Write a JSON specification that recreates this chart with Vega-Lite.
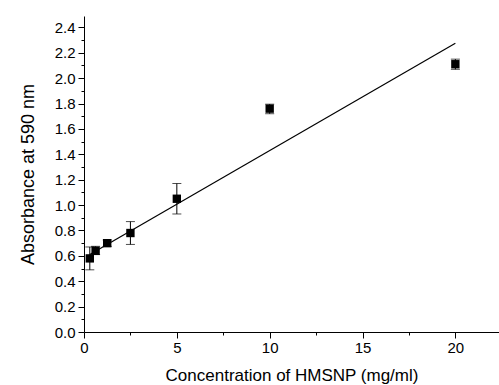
{
  "$schema": "https://vega.github.io/schema/vega-lite/v6.json",
  "autosize": "none",
  "padding": {"left": 84, "top": 16, "right": 0, "bottom": 53},
  "width": 415,
  "height": 316,
  "background": "white",
  "config": {
    "view": {"stroke": null},
    "font": "Liberation Sans",
    "axis": {
      "domainColor": "black",
      "domainWidth": 1,
      "tickColor": "black",
      "tickWidth": 1,
      "labelColor": "black",
      "titleColor": "black",
      "labelFont": "Liberation Sans",
      "titleFont": "Liberation Sans",
      "labelFontSize": 15,
      "titleFontWeight": "normal",
      "grid": false
    }
  },
  "datasets": {
    "pts": [
      {"conc": 0.3125, "abs": 0.58, "lo": 0.49, "hi": 0.67},
      {"conc": 0.625, "abs": 0.64, "lo": 0.61, "hi": 0.675},
      {"conc": 1.25, "abs": 0.70, "lo": 0.675, "hi": 0.725},
      {"conc": 2.5, "abs": 0.78, "lo": 0.69, "hi": 0.87},
      {"conc": 5, "abs": 1.05, "lo": 0.93, "hi": 1.17},
      {"conc": 10, "abs": 1.76, "lo": 1.72, "hi": 1.795},
      {"conc": 20, "abs": 2.11, "lo": 2.07, "hi": 2.15}
    ],
    "fit": [
      {"conc": 0.3125, "abs": 0.611},
      {"conc": 20, "abs": 2.276}
    ]
  },
  "layer": [
    {
      "data": {"name": "fit"},
      "mark": {"type": "line", "color": "black", "strokeWidth": 1.2},
      "encoding": {
        "x": {
          "field": "conc", "type": "quantitative",
          "scale": {"domain": [0, 22.35], "nice": false, "zero": false},
          "axis": {
            "title": "Concentration of HMSNP (mg/ml)",
            "titleFontSize": 17,
            "values": [0, 2.5, 5, 7.5, 10, 12.5, 15, 17.5, 20],
            "tickCount": 100,
            "labelExpr": "datum.value % 5 == 0 ? format(datum.value, 'd') : ''",
            "tickSize": {"condition": {"test": "datum.value % 5 == 0", "value": 6}, "value": 3},
            "labelOverlap": false,
            "labelPadding": 2,
            "titlePadding": 12,
            "labelFlush": false
          }
        },
        "y": {
          "field": "abs", "type": "quantitative",
          "scale": {"domain": [0, 2.49], "nice": false, "zero": false},
          "axis": {
            "title": "Absorbance at 590 nm",
            "titleFontSize": 18,
            "values": [0, 0.1, 0.2, 0.3, 0.4, 0.5, 0.6, 0.7, 0.8, 0.9, 1.0, 1.1, 1.2, 1.3, 1.4, 1.5, 1.6, 1.7, 1.8, 1.9, 2.0, 2.1, 2.2, 2.3, 2.4],
            "tickCount": 100,
            "labelExpr": "round(datum.value * 10) % 2 == 0 ? format(datum.value, '.1f') : ''",
            "tickSize": {"condition": {"test": "round(datum.value * 10) % 2 == 0", "value": 6}, "value": 3},
            "labelOverlap": false,
            "labelPadding": 3,
            "titlePadding": 17,
            "labelFlush": false
          }
        }
      }
    },
    {
      "data": {"name": "pts"},
      "mark": {"type": "rule", "color": "black", "strokeWidth": 1},
      "encoding": {
        "x": {"field": "conc", "type": "quantitative"},
        "y": {"field": "lo", "type": "quantitative"},
        "y2": {"field": "hi"}
      }
    },
    {
      "data": {"name": "pts"},
      "mark": {"type": "tick", "orient": "horizontal", "color": "black", "size": 9, "thickness": 1},
      "encoding": {
        "x": {"field": "conc", "type": "quantitative"},
        "y": {"field": "lo", "type": "quantitative"}
      }
    },
    {
      "data": {"name": "pts"},
      "mark": {"type": "tick", "orient": "horizontal", "color": "black", "size": 9, "thickness": 1},
      "encoding": {
        "x": {"field": "conc", "type": "quantitative"},
        "y": {"field": "hi", "type": "quantitative"}
      }
    },
    {
      "data": {"name": "pts"},
      "mark": {"type": "square", "color": "black", "filled": true, "opacity": 1, "size": 70},
      "encoding": {
        "x": {"field": "conc", "type": "quantitative"},
        "y": {"field": "abs", "type": "quantitative"}
      }
    }
  ]
}
